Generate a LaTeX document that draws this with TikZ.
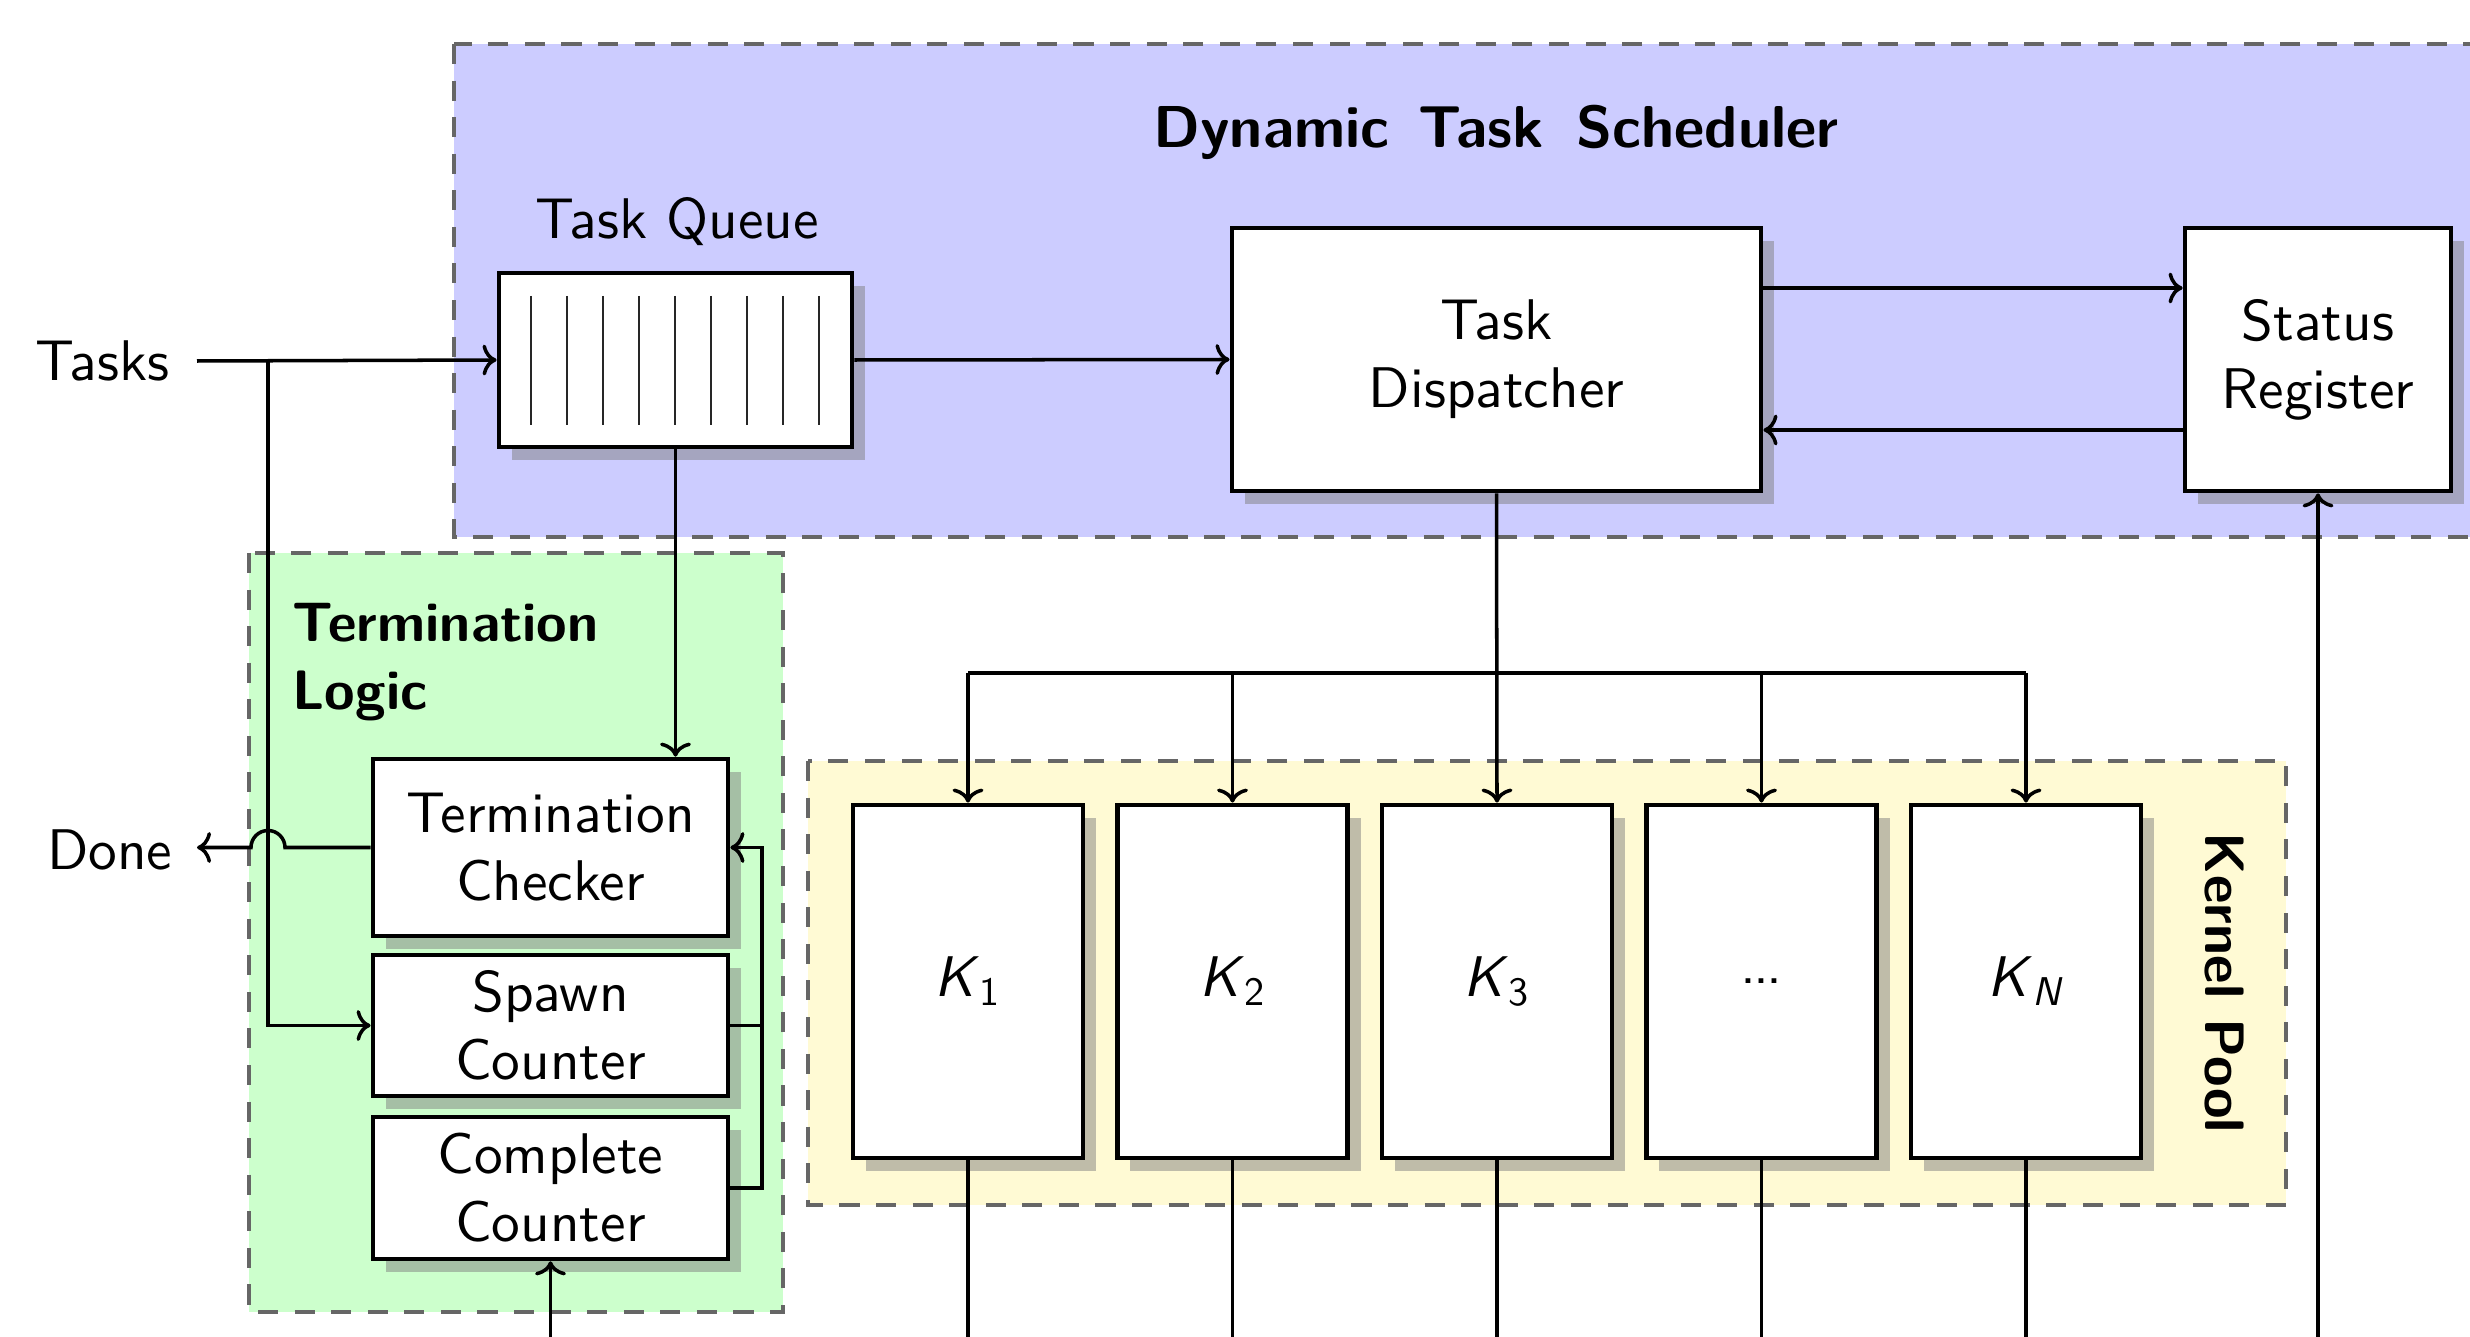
\documentclass[tikz,border=0pt]{standalone}
\usepackage{fontspec}
\setsansfont{lmsans10-regular.otf}[BoldFont=lmsans10-bold.otf, ItalicFont=lmsans10-oblique.otf, BoldItalicFont=lmsans10-boldoblique.otf]
\usetikzlibrary{shadows,arrows.meta}
\definecolor{schedblue}{HTML}{CCCCFF}
\definecolor{termgreen}{HTML}{CCFFCC}
\definecolor{poolyellow}{HTML}{FFFAD4}
\tikzset{
  grp/.style={draw=black!60, dash pattern=on 5.7pt off 4.7pt, line width=1.1pt},
  blk/.style={draw, fill=white, line width=1.3pt, align=center, inner sep=0pt,
    drop shadow={shadow xshift=0.13cm, shadow yshift=-0.13cm}},
  kern/.style={blk, minimum width=2.30cm, minimum height=3.53cm},
  conn/.style={-{To[length=4pt,width=8.8pt]}, line width=1pt},
  plain/.style={line width=1pt},
  ttl/.style={font=\sffamily\bfseries\fontsize{15.8}{19.3}\selectfont},
  bigttl/.style={font=\sffamily\bfseries\fontsize{16.8}{19.3}\selectfont}
}
\begin{document}
\begin{tikzpicture}[x=0.01cm, y=-0.01cm, font=\sffamily\fontsize{16.3}{19.3}\selectfont]
\useasboundingbox (0,0) rectangle (2470,1337);
\clip (0,0) rectangle (2470,1337);

% group boxes
\path[grp, fill=schedblue] (454,44) rectangle (2530,537);
\path[grp, fill=termgreen] (249,553) rectangle (783,1312);
\path[grp, fill=poolyellow] (808,761) rectangle (2286,1205);

% labels of groups
\node[bigttl] (schedtitle) at (1496,132) {Dynamic\hspace{0.5em}Task\hspace{0.55em}Scheduler};
\node[ttl, anchor=north west, align=left, inner sep=0pt] (termlabel) at (292,603) {Termination\\Logic};
\node[ttl, rotate=-90] (poollabel) at (2224,983) {Kernel Pool};

% scheduler blocks
\node (qlabel) at (677,222) {Task Queue};
\node[blk, minimum width=3.53cm, minimum height=1.74cm] (queue) at (675.5,360) {};
\foreach \i in {0,...,8}
  \draw[line width=0.6pt, black!85] (531+36*\i,296) -- (531+36*\i,425);
\node[blk, minimum width=5.29cm, minimum height=2.63cm] (disp) at (1496.5,359.5) {Task\\Dispatcher};
\node[blk, minimum width=2.66cm, minimum height=2.63cm] (status) at (2318,359.5) {Status\\Register};

% termination logic blocks
\node[blk, minimum width=3.55cm, minimum height=1.77cm] (checker) at (550.5,847.5) {Termination\\Checker};
\node[blk, minimum width=3.55cm, minimum height=1.41cm] (spawn) at (550.5,1025.5) {Spawn\\Counter};
\node[blk, minimum width=3.55cm, minimum height=1.42cm] (complete) at (550.5,1188) {Complete\\Counter};

% kernels
\node[kern] (k1) at (968,981.5) {\textit{K}\textsubscript{1}};
\node[kern] (k2) at (1232.5,981.5) {\textit{K}\textsubscript{2}};
\node[kern] (k3) at (1497,981.5) {\textit{K}\textsubscript{3}};
\node[kern] (k4) at (1761.5,981.5) {.\kern-0.05em.\kern-0.05em.};
\node[kern] (kn) at (2026,981.5) {\textit{K}\textsubscript{\textit{N}}};

% outside labels
\node[anchor=east, inner sep=0pt] (tasks) at (170,361) {Tasks};
\node[anchor=east, inner sep=0pt] (done) at (173,850) {Done};

% coordinates
\coordinate (tasksin) at (197,361);
\coordinate (tbranch) at (268,361);
\coordinate (doneout) at (197,847.5);
\coordinate (hopR) at (285,847.5);
\coordinate (fbx) at (762,0);
\coordinate (dsy1) at (0,288);
\coordinate (dsy2) at (0,430);
\coordinate (bus) at (0,673);
\coordinate (bottom) at (0,1400);

% connectors
\draw[conn] (tasksin) -- (queue.west);
\draw[conn] (tbranch) |- (spawn.west);
\draw[conn] (queue.east) -- (disp.west);
\draw[conn] (queue.south) -- (queue.south |- checker.north);
\draw[conn] (disp.east |- dsy1) -- (status.west |- dsy1);
\draw[conn] (status.west |- dsy2) -- (disp.east |- dsy2);
\draw[conn] (disp.south) -- (k3.north);
\draw[plain] (k1.north |- bus) -- (kn.north |- bus);
\foreach \k in {k1,k2,k4,kn}
  \draw[conn] (\k.north |- bus) -- (\k.north);
\foreach \k in {k1,k2,k3,k4,kn}
  \draw[plain] (\k.south) -- (\k.south |- bottom);
\draw[conn] (status.south |- bottom) -- (status.south);
\draw[conn] (complete.south |- bottom) -- (complete.south);
\draw[plain] (spawn.east) -- (spawn.east -| fbx);
\draw[conn] (complete.east) -- (complete.east -| fbx) -- (checker.east -| fbx) -- (checker.east);
\draw[conn] (checker.west) -- (hopR) arc[start angle=0, end angle=180, radius=0.17cm] -- (doneout);
\end{tikzpicture}
\end{document}
